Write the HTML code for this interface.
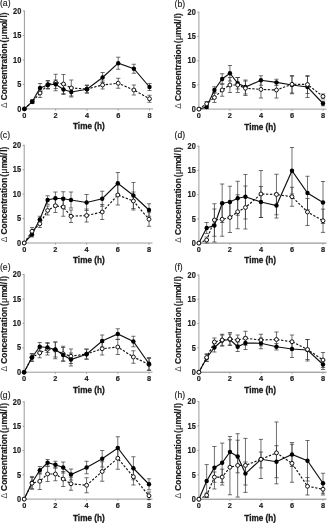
<!DOCTYPE html>
<html><head><meta charset="utf-8"><style>
html,body{margin:0;padding:0;background:#fff;width:328px;height:523px;overflow:hidden}
svg{display:block}
#w{filter:grayscale(1) ;width:328px;height:523px}
text{font-family:"Liberation Sans",sans-serif;fill:#1a1a1a}
.tk{font-size:7.4px;font-weight:bold;stroke:#1a1a1a;stroke-width:0.15px}
.xl{font-size:8.2px;font-weight:bold;stroke:#1a1a1a;stroke-width:0.3px}
.yl text{font-size:84px;font-weight:bold;stroke:#1a1a1a;stroke-width:2px}
.yl .sym{font-weight:normal}
.yl .dl{font-weight:normal;font-size:84px;stroke:none;fill:#444}
.yr text{stroke-width:1.6px}
.pl{font-size:8.6px;stroke:#1a1a1a;stroke-width:0.15px}
</style></head><body>
<div id="w"><svg width="328" height="523" viewBox="0 0 328 523">
<line x1="24.40" y1="10.50" x2="24.40" y2="108.90" stroke="#9a9a9a" stroke-width="1"/>
<line x1="24.40" y1="108.90" x2="153.00" y2="108.90" stroke="#9a9a9a" stroke-width="1"/>
<line x1="22.80" y1="108.90" x2="24.40" y2="108.90" stroke="#9a9a9a" stroke-width="1"/>
<text transform="translate(21.30,111.60) scale(1,1.12)" text-anchor="end" class="tk">0</text>
<line x1="22.80" y1="84.43" x2="24.40" y2="84.43" stroke="#9a9a9a" stroke-width="1"/>
<text transform="translate(21.30,87.13) scale(1,1.12)" text-anchor="end" class="tk">5</text>
<line x1="22.80" y1="59.95" x2="24.40" y2="59.95" stroke="#9a9a9a" stroke-width="1"/>
<text transform="translate(21.30,62.65) scale(1,1.12)" text-anchor="end" class="tk">10</text>
<line x1="22.80" y1="35.47" x2="24.40" y2="35.47" stroke="#9a9a9a" stroke-width="1"/>
<text transform="translate(21.30,38.17) scale(1,1.12)" text-anchor="end" class="tk">15</text>
<line x1="22.80" y1="11.00" x2="24.40" y2="11.00" stroke="#9a9a9a" stroke-width="1"/>
<text transform="translate(21.30,13.70) scale(1,1.12)" text-anchor="end" class="tk">20</text>
<line x1="24.40" y1="108.90" x2="24.40" y2="110.50" stroke="#9a9a9a" stroke-width="1"/>
<text transform="translate(24.40,117.90) scale(1,1.02)" text-anchor="middle" class="tk">0</text>
<line x1="55.67" y1="108.90" x2="55.67" y2="110.50" stroke="#9a9a9a" stroke-width="1"/>
<text transform="translate(55.67,117.90) scale(1,1.02)" text-anchor="middle" class="tk">2</text>
<line x1="86.95" y1="108.90" x2="86.95" y2="110.50" stroke="#9a9a9a" stroke-width="1"/>
<text transform="translate(86.95,117.90) scale(1,1.02)" text-anchor="middle" class="tk">4</text>
<line x1="118.22" y1="108.90" x2="118.22" y2="110.50" stroke="#9a9a9a" stroke-width="1"/>
<text transform="translate(118.22,117.90) scale(1,1.02)" text-anchor="middle" class="tk">6</text>
<line x1="149.50" y1="108.90" x2="149.50" y2="110.50" stroke="#9a9a9a" stroke-width="1"/>
<text transform="translate(149.50,117.90) scale(1,1.02)" text-anchor="middle" class="tk">8</text>
<text transform="translate(88.85,129.30) scale(1,1.0)" text-anchor="middle" class="xl">Time (h)</text>
<g transform="translate(7.40,59.55) rotate(-90) scale(0.1)" class="yl"><text x="-485.0" class="dl">Δ</text><text x="-407.9">Concentration</text><text x="170.3">(</text><text x="202.9" class="sym">μ</text><text x="255.0">m</text><text x="322.2">o</text><text x="364.6">l</text><text x="386.7">/</text><text x="419.6">l</text><text x="442.4">)</text></g>
<text x="0.00" y="6.40" class="pl">(a)</text>
<g stroke="#333" stroke-width="0.7" fill="none"><path d="M32.22 100.00V103.50M30.12 100.00H34.32M30.12 103.50H34.32"/><path d="M40.04 88.50V97.50M37.94 88.50H42.14M37.94 97.50H42.14"/><path d="M47.86 80.50V88.50M45.76 80.50H49.96M45.76 88.50H49.96"/><path d="M55.67 74.25V90.75M53.57 74.25H57.77M53.57 90.75H57.77"/><path d="M63.49 74.50V93.50M61.39 74.50H65.59M61.39 93.50H65.59"/><path d="M71.31 80.00V96.00M69.21 80.00H73.41M69.21 96.00H73.41"/><path d="M86.95 85.00V93.00M84.85 85.00H89.05M84.85 93.00H89.05"/><path d="M102.59 81.00V89.00M100.49 81.00H104.69M100.49 89.00H104.69"/><path d="M118.22 78.25V88.25M116.12 78.25H120.32M116.12 88.25H120.32"/><path d="M133.86 85.00V95.00M131.76 85.00H135.96M131.76 95.00H135.96"/><path d="M149.50 95.25V102.25M147.40 95.25H151.60M147.40 102.25H151.60"/><path d="M32.22 100.00V103.50M30.12 100.00H34.32M30.12 103.50H34.32"/><path d="M40.04 83.50V92.50M37.94 83.50H42.14M37.94 92.50H42.14"/><path d="M47.86 81.00V89.00M45.76 81.00H49.96M45.76 89.00H49.96"/><path d="M55.67 80.00V88.50M53.57 80.00H57.77M53.57 88.50H57.77"/><path d="M63.49 84.50V94.50M61.39 84.50H65.59M61.39 94.50H65.59"/><path d="M71.31 87.00V97.00M69.21 87.00H73.41M69.21 97.00H73.41"/><path d="M86.95 85.50V93.00M84.85 85.50H89.05M84.85 93.00H89.05"/><path d="M102.59 72.50V82.50M100.49 72.50H104.69M100.49 82.50H104.69"/><path d="M118.22 57.20V69.30M116.12 57.20H120.32M116.12 69.30H120.32"/><path d="M133.86 64.25V73.25M131.76 64.25H135.96M131.76 73.25H135.96"/><path d="M149.50 83.50V90.50M147.40 83.50H151.60M147.40 90.50H151.60"/></g>
<polyline points="24.40,108.90 32.22,101.75 40.04,93.00 47.86,84.50 55.67,82.50 63.49,84.00 71.31,88.00 86.95,89.00 102.59,85.00 118.22,83.25 133.86,90.00 149.50,98.75" fill="none" stroke="#111" stroke-width="1.15" stroke-dasharray="2.3 1.6"/>
<polyline points="24.40,108.90 32.22,101.75 40.04,88.00 47.86,85.00 55.67,84.25 63.49,89.50 71.31,92.00 86.95,89.25 102.59,77.50 118.22,63.20 133.86,68.75 149.50,87.00" fill="none" stroke="#111" stroke-width="1.15"/>
<circle cx="24.40" cy="108.90" r="1.95" fill="#fff" stroke="#111" stroke-width="1.0"/><circle cx="32.22" cy="101.75" r="1.95" fill="#fff" stroke="#111" stroke-width="1.0"/><circle cx="40.04" cy="93.00" r="1.95" fill="#fff" stroke="#111" stroke-width="1.0"/><circle cx="47.86" cy="84.50" r="1.95" fill="#fff" stroke="#111" stroke-width="1.0"/><circle cx="55.67" cy="82.50" r="1.95" fill="#fff" stroke="#111" stroke-width="1.0"/><circle cx="63.49" cy="84.00" r="1.95" fill="#fff" stroke="#111" stroke-width="1.0"/><circle cx="71.31" cy="88.00" r="1.95" fill="#fff" stroke="#111" stroke-width="1.0"/><circle cx="86.95" cy="89.00" r="1.95" fill="#fff" stroke="#111" stroke-width="1.0"/><circle cx="102.59" cy="85.00" r="1.95" fill="#fff" stroke="#111" stroke-width="1.0"/><circle cx="118.22" cy="83.25" r="1.95" fill="#fff" stroke="#111" stroke-width="1.0"/><circle cx="133.86" cy="90.00" r="1.95" fill="#fff" stroke="#111" stroke-width="1.0"/><circle cx="149.50" cy="98.75" r="1.95" fill="#fff" stroke="#111" stroke-width="1.0"/>
<circle cx="24.40" cy="108.90" r="2.2" fill="#000"/><circle cx="32.22" cy="101.75" r="2.2" fill="#000"/><circle cx="40.04" cy="88.00" r="2.2" fill="#000"/><circle cx="47.86" cy="85.00" r="2.2" fill="#000"/><circle cx="55.67" cy="84.25" r="2.2" fill="#000"/><circle cx="63.49" cy="89.50" r="2.2" fill="#000"/><circle cx="71.31" cy="92.00" r="2.2" fill="#000"/><circle cx="86.95" cy="89.25" r="2.2" fill="#000"/><circle cx="102.59" cy="77.50" r="2.2" fill="#000"/><circle cx="118.22" cy="63.20" r="2.2" fill="#000"/><circle cx="133.86" cy="68.75" r="2.2" fill="#000"/><circle cx="149.50" cy="87.00" r="2.2" fill="#000"/>
<line x1="198.90" y1="11.70" x2="198.90" y2="109.10" stroke="#9a9a9a" stroke-width="1"/>
<line x1="198.90" y1="109.10" x2="326.50" y2="109.10" stroke="#9a9a9a" stroke-width="1"/>
<line x1="197.30" y1="109.10" x2="198.90" y2="109.10" stroke="#9a9a9a" stroke-width="1"/>
<text transform="translate(195.80,111.80) scale(1,1.12)" text-anchor="end" class="tk">0</text>
<line x1="197.30" y1="84.88" x2="198.90" y2="84.88" stroke="#9a9a9a" stroke-width="1"/>
<text transform="translate(195.80,87.58) scale(1,1.12)" text-anchor="end" class="tk">5</text>
<line x1="197.30" y1="60.65" x2="198.90" y2="60.65" stroke="#9a9a9a" stroke-width="1"/>
<text transform="translate(195.80,63.35) scale(1,1.12)" text-anchor="end" class="tk">10</text>
<line x1="197.30" y1="36.42" x2="198.90" y2="36.42" stroke="#9a9a9a" stroke-width="1"/>
<text transform="translate(195.80,39.12) scale(1,1.12)" text-anchor="end" class="tk">15</text>
<line x1="197.30" y1="12.20" x2="198.90" y2="12.20" stroke="#9a9a9a" stroke-width="1"/>
<text transform="translate(195.80,14.90) scale(1,1.12)" text-anchor="end" class="tk">20</text>
<line x1="198.90" y1="109.10" x2="198.90" y2="110.70" stroke="#9a9a9a" stroke-width="1"/>
<text transform="translate(198.90,118.10) scale(1,1.02)" text-anchor="middle" class="tk">0</text>
<line x1="229.93" y1="109.10" x2="229.93" y2="110.70" stroke="#9a9a9a" stroke-width="1"/>
<text transform="translate(229.93,118.10) scale(1,1.02)" text-anchor="middle" class="tk">2</text>
<line x1="260.95" y1="109.10" x2="260.95" y2="110.70" stroke="#9a9a9a" stroke-width="1"/>
<text transform="translate(260.95,118.10) scale(1,1.02)" text-anchor="middle" class="tk">4</text>
<line x1="291.98" y1="109.10" x2="291.98" y2="110.70" stroke="#9a9a9a" stroke-width="1"/>
<text transform="translate(291.98,118.10) scale(1,1.02)" text-anchor="middle" class="tk">6</text>
<line x1="323.00" y1="109.10" x2="323.00" y2="110.70" stroke="#9a9a9a" stroke-width="1"/>
<text transform="translate(323.00,118.10) scale(1,1.02)" text-anchor="middle" class="tk">8</text>
<text transform="translate(260.20,129.50) scale(1,1.0)" text-anchor="middle" class="xl">Time (h)</text>
<g transform="translate(181.00,60.25) rotate(-90) scale(0.1)" class="yl yr"><text x="-485.0" class="dl">Δ</text><text x="-407.9">Concentration</text><text x="170.3">(</text><text x="202.9" class="sym">μ</text><text x="255.0">m</text><text x="322.2">o</text><text x="364.6">l</text><text x="386.7">/</text><text x="419.6">l</text><text x="442.4">)</text></g>
<text x="174.60" y="6.90" class="pl">(b)</text>
<g stroke="#333" stroke-width="0.7" fill="none"><path d="M206.66 101.50V106.00M204.56 101.50H208.76M204.56 106.00H208.76"/><path d="M214.41 92.50V102.50M212.31 92.50H216.51M212.31 102.50H216.51"/><path d="M222.17 83.75V96.25M220.07 83.75H224.27M220.07 96.25H224.27"/><path d="M229.93 77.50V92.50M227.83 77.50H232.03M227.83 92.50H232.03"/><path d="M237.68 77.50V92.50M235.58 77.50H239.78M235.58 92.50H239.78"/><path d="M245.44 81.00V95.50M243.34 81.00H247.54M243.34 95.50H247.54"/><path d="M260.95 80.50V98.00M258.85 80.50H263.05M258.85 98.00H263.05"/><path d="M276.46 82.00V98.00M274.36 82.00H278.56M274.36 98.00H278.56"/><path d="M291.98 75.50V93.00M289.88 75.50H294.08M289.88 93.00H294.08"/><path d="M307.49 75.50V93.50M305.39 75.50H309.59M305.39 93.50H309.59"/><path d="M323.00 94.00V98.80M320.90 94.00H325.10M320.90 98.80H325.10"/><path d="M206.66 105.50V108.50M204.56 105.50H208.76M204.56 108.50H208.76"/><path d="M214.41 86.75V93.25M212.31 86.75H216.51M212.31 93.25H216.51"/><path d="M222.17 73.75V84.25M220.07 73.75H224.27M220.07 84.25H224.27"/><path d="M229.93 65.50V81.00M227.83 65.50H232.03M227.83 81.00H232.03"/><path d="M237.68 77.50V89.00M235.58 77.50H239.78M235.58 89.00H239.78"/><path d="M245.44 80.00V94.00M243.34 80.00H247.54M243.34 94.00H247.54"/><path d="M260.95 75.75V85.25M258.85 75.75H263.05M258.85 85.25H263.05"/><path d="M276.46 79.25V85.50M274.36 79.25H278.56M274.36 85.50H278.56"/><path d="M291.98 76.25V93.75M289.88 76.25H294.08M289.88 93.75H294.08"/><path d="M307.49 76.50V97.50M305.39 76.50H309.59M305.39 97.50H309.59"/><path d="M323.00 101.20V105.80M320.90 101.20H325.10M320.90 105.80H325.10"/></g>
<polyline points="198.90,109.10 206.66,107.00 214.41,90.00 222.17,79.00 229.93,73.25 237.68,83.25 245.44,87.00 260.95,80.30 276.46,82.40 291.98,85.00 307.49,87.00 323.00,103.50" fill="none" stroke="#111" stroke-width="1.15"/>
<polyline points="198.90,109.10 206.66,103.75 214.41,97.50 222.17,90.00 229.93,85.00 237.68,85.00 245.44,88.25 260.95,89.40 276.46,90.00 291.98,84.25 307.49,84.50 323.00,96.40" fill="none" stroke="#111" stroke-width="1.15" stroke-dasharray="2.3 1.6"/>
<circle cx="198.90" cy="109.10" r="2.2" fill="#000"/><circle cx="206.66" cy="107.00" r="2.2" fill="#000"/><circle cx="214.41" cy="90.00" r="2.2" fill="#000"/><circle cx="222.17" cy="79.00" r="2.2" fill="#000"/><circle cx="229.93" cy="73.25" r="2.2" fill="#000"/><circle cx="237.68" cy="83.25" r="2.2" fill="#000"/><circle cx="245.44" cy="87.00" r="2.2" fill="#000"/><circle cx="260.95" cy="80.30" r="2.2" fill="#000"/><circle cx="276.46" cy="82.40" r="2.2" fill="#000"/><circle cx="291.98" cy="85.00" r="2.2" fill="#000"/><circle cx="307.49" cy="87.00" r="2.2" fill="#000"/><circle cx="323.00" cy="103.50" r="2.2" fill="#000"/>
<circle cx="198.90" cy="109.10" r="1.95" fill="#fff" stroke="#111" stroke-width="1.0"/><circle cx="206.66" cy="103.75" r="1.95" fill="#fff" stroke="#111" stroke-width="1.0"/><circle cx="214.41" cy="97.50" r="1.95" fill="#fff" stroke="#111" stroke-width="1.0"/><circle cx="222.17" cy="90.00" r="1.95" fill="#fff" stroke="#111" stroke-width="1.0"/><circle cx="229.93" cy="85.00" r="1.95" fill="#fff" stroke="#111" stroke-width="1.0"/><circle cx="237.68" cy="85.00" r="1.95" fill="#fff" stroke="#111" stroke-width="1.0"/><circle cx="245.44" cy="88.25" r="1.95" fill="#fff" stroke="#111" stroke-width="1.0"/><circle cx="260.95" cy="89.40" r="1.95" fill="#fff" stroke="#111" stroke-width="1.0"/><circle cx="276.46" cy="90.00" r="1.95" fill="#fff" stroke="#111" stroke-width="1.0"/><circle cx="291.98" cy="84.25" r="1.95" fill="#fff" stroke="#111" stroke-width="1.0"/><circle cx="307.49" cy="84.50" r="1.95" fill="#fff" stroke="#111" stroke-width="1.0"/><circle cx="323.00" cy="96.40" r="1.95" fill="#fff" stroke="#111" stroke-width="1.0"/>
<line x1="24.20" y1="144.80" x2="24.20" y2="243.00" stroke="#9a9a9a" stroke-width="1"/>
<line x1="24.20" y1="243.00" x2="152.50" y2="243.00" stroke="#9a9a9a" stroke-width="1"/>
<line x1="22.60" y1="243.00" x2="24.20" y2="243.00" stroke="#9a9a9a" stroke-width="1"/>
<text transform="translate(21.10,245.70) scale(1,1.12)" text-anchor="end" class="tk">0</text>
<line x1="22.60" y1="218.57" x2="24.20" y2="218.57" stroke="#9a9a9a" stroke-width="1"/>
<text transform="translate(21.10,221.27) scale(1,1.12)" text-anchor="end" class="tk">5</text>
<line x1="22.60" y1="194.15" x2="24.20" y2="194.15" stroke="#9a9a9a" stroke-width="1"/>
<text transform="translate(21.10,196.85) scale(1,1.12)" text-anchor="end" class="tk">10</text>
<line x1="22.60" y1="169.73" x2="24.20" y2="169.73" stroke="#9a9a9a" stroke-width="1"/>
<text transform="translate(21.10,172.43) scale(1,1.12)" text-anchor="end" class="tk">15</text>
<line x1="22.60" y1="145.30" x2="24.20" y2="145.30" stroke="#9a9a9a" stroke-width="1"/>
<text transform="translate(21.10,148.00) scale(1,1.12)" text-anchor="end" class="tk">20</text>
<line x1="24.20" y1="243.00" x2="24.20" y2="244.60" stroke="#9a9a9a" stroke-width="1"/>
<text transform="translate(24.20,252.00) scale(1,1.02)" text-anchor="middle" class="tk">0</text>
<line x1="55.40" y1="243.00" x2="55.40" y2="244.60" stroke="#9a9a9a" stroke-width="1"/>
<text transform="translate(55.40,252.00) scale(1,1.02)" text-anchor="middle" class="tk">2</text>
<line x1="86.60" y1="243.00" x2="86.60" y2="244.60" stroke="#9a9a9a" stroke-width="1"/>
<text transform="translate(86.60,252.00) scale(1,1.02)" text-anchor="middle" class="tk">4</text>
<line x1="117.80" y1="243.00" x2="117.80" y2="244.60" stroke="#9a9a9a" stroke-width="1"/>
<text transform="translate(117.80,252.00) scale(1,1.02)" text-anchor="middle" class="tk">6</text>
<line x1="149.00" y1="243.00" x2="149.00" y2="244.60" stroke="#9a9a9a" stroke-width="1"/>
<text transform="translate(149.00,252.00) scale(1,1.02)" text-anchor="middle" class="tk">8</text>
<text transform="translate(88.85,263.30) scale(1,1.0)" text-anchor="middle" class="xl">Time (h)</text>
<g transform="translate(7.20,193.75) rotate(-90) scale(0.1)" class="yl"><text x="-485.0" class="dl">Δ</text><text x="-407.9">Concentration</text><text x="170.3">(</text><text x="202.9" class="sym">μ</text><text x="255.0">m</text><text x="322.2">o</text><text x="364.6">l</text><text x="386.7">/</text><text x="419.6">l</text><text x="442.4">)</text></g>
<text x="0.00" y="138.10" class="pl">(c)</text>
<g stroke="#333" stroke-width="0.7" fill="none"><path d="M32.00 227.50V235.00M29.90 227.50H34.10M29.90 235.00H34.10"/><path d="M39.80 220.00V227.50M37.70 220.00H41.90M37.70 227.50H41.90"/><path d="M47.60 206.00V215.00M45.50 206.00H49.70M45.50 215.00H49.70"/><path d="M55.40 199.00V212.50M53.30 199.00H57.50M53.30 212.50H57.50"/><path d="M63.20 197.75V216.25M61.10 197.75H65.30M61.10 216.25H65.30"/><path d="M71.00 210.00V222.50M68.90 210.00H73.10M68.90 222.50H73.10"/><path d="M86.60 209.00V222.00M84.50 209.00H88.70M84.50 222.00H88.70"/><path d="M102.20 204.50V219.50M100.10 204.50H104.30M100.10 219.50H104.30"/><path d="M117.80 185.00V205.00M115.70 185.00H119.90M115.70 205.00H119.90"/><path d="M133.40 192.00V210.00M131.30 192.00H135.50M131.30 210.00H135.50"/><path d="M149.00 212.25V226.25M146.90 212.25H151.10M146.90 226.25H151.10"/><path d="M32.00 232.00V237.00M29.90 232.00H34.10M29.90 237.00H34.10"/><path d="M39.80 216.25V222.75M37.70 216.25H41.90M37.70 222.75H41.90"/><path d="M47.60 195.75V204.25M45.50 195.75H49.70M45.50 204.25H49.70"/><path d="M55.40 192.00V204.50M53.30 192.00H57.50M53.30 204.50H57.50"/><path d="M63.20 191.75V205.75M61.10 191.75H65.30M61.10 205.75H65.30"/><path d="M71.00 192.00V208.00M68.90 192.00H73.10M68.90 208.00H73.10"/><path d="M86.60 194.50V210.50M84.50 194.50H88.70M84.50 210.50H88.70"/><path d="M102.20 191.25V206.25M100.10 191.25H104.30M100.10 206.25H104.30"/><path d="M117.80 172.50V194.00M115.70 172.50H119.90M115.70 194.00H119.90"/><path d="M133.40 182.50V208.50M131.30 182.50H135.50M131.30 208.50H135.50"/><path d="M149.00 203.75V216.25M146.90 203.75H151.10M146.90 216.25H151.10"/></g>
<polyline points="24.20,243.00 32.00,234.50 39.80,219.50 47.60,200.00 55.40,198.25 63.20,198.75 71.00,200.00 86.60,202.50 102.20,198.75 117.80,183.25 133.40,195.50 149.00,210.00" fill="none" stroke="#111" stroke-width="1.15"/>
<polyline points="24.20,243.00 32.00,231.25 39.80,223.75 47.60,210.50 55.40,205.75 63.20,207.00 71.00,216.25 86.60,215.50 102.20,212.00 117.80,195.00 133.40,201.00 149.00,219.25" fill="none" stroke="#111" stroke-width="1.15" stroke-dasharray="2.3 1.6"/>
<circle cx="24.20" cy="243.00" r="2.2" fill="#000"/><circle cx="32.00" cy="234.50" r="2.2" fill="#000"/><circle cx="39.80" cy="219.50" r="2.2" fill="#000"/><circle cx="47.60" cy="200.00" r="2.2" fill="#000"/><circle cx="55.40" cy="198.25" r="2.2" fill="#000"/><circle cx="63.20" cy="198.75" r="2.2" fill="#000"/><circle cx="71.00" cy="200.00" r="2.2" fill="#000"/><circle cx="86.60" cy="202.50" r="2.2" fill="#000"/><circle cx="102.20" cy="198.75" r="2.2" fill="#000"/><circle cx="117.80" cy="183.25" r="2.2" fill="#000"/><circle cx="133.40" cy="195.50" r="2.2" fill="#000"/><circle cx="149.00" cy="210.00" r="2.2" fill="#000"/>
<circle cx="24.20" cy="243.00" r="1.95" fill="#fff" stroke="#111" stroke-width="1.0"/><circle cx="32.00" cy="231.25" r="1.95" fill="#fff" stroke="#111" stroke-width="1.0"/><circle cx="39.80" cy="223.75" r="1.95" fill="#fff" stroke="#111" stroke-width="1.0"/><circle cx="47.60" cy="210.50" r="1.95" fill="#fff" stroke="#111" stroke-width="1.0"/><circle cx="55.40" cy="205.75" r="1.95" fill="#fff" stroke="#111" stroke-width="1.0"/><circle cx="63.20" cy="207.00" r="1.95" fill="#fff" stroke="#111" stroke-width="1.0"/><circle cx="71.00" cy="216.25" r="1.95" fill="#fff" stroke="#111" stroke-width="1.0"/><circle cx="86.60" cy="215.50" r="1.95" fill="#fff" stroke="#111" stroke-width="1.0"/><circle cx="102.20" cy="212.00" r="1.95" fill="#fff" stroke="#111" stroke-width="1.0"/><circle cx="117.80" cy="195.00" r="1.95" fill="#fff" stroke="#111" stroke-width="1.0"/><circle cx="133.40" cy="201.00" r="1.95" fill="#fff" stroke="#111" stroke-width="1.0"/><circle cx="149.00" cy="219.25" r="1.95" fill="#fff" stroke="#111" stroke-width="1.0"/>
<line x1="198.90" y1="145.70" x2="198.90" y2="243.10" stroke="#9a9a9a" stroke-width="1"/>
<line x1="198.90" y1="243.10" x2="326.50" y2="243.10" stroke="#808080" stroke-width="1"/>
<line x1="197.30" y1="243.10" x2="198.90" y2="243.10" stroke="#9a9a9a" stroke-width="1"/>
<text transform="translate(195.80,245.80) scale(1,1.12)" text-anchor="end" class="tk">0</text>
<line x1="197.30" y1="218.88" x2="198.90" y2="218.88" stroke="#9a9a9a" stroke-width="1"/>
<text transform="translate(195.80,221.57) scale(1,1.12)" text-anchor="end" class="tk">5</text>
<line x1="197.30" y1="194.65" x2="198.90" y2="194.65" stroke="#9a9a9a" stroke-width="1"/>
<text transform="translate(195.80,197.35) scale(1,1.12)" text-anchor="end" class="tk">10</text>
<line x1="197.30" y1="170.42" x2="198.90" y2="170.42" stroke="#9a9a9a" stroke-width="1"/>
<text transform="translate(195.80,173.12) scale(1,1.12)" text-anchor="end" class="tk">15</text>
<line x1="197.30" y1="146.20" x2="198.90" y2="146.20" stroke="#9a9a9a" stroke-width="1"/>
<text transform="translate(195.80,148.90) scale(1,1.12)" text-anchor="end" class="tk">20</text>
<line x1="198.90" y1="243.10" x2="198.90" y2="244.70" stroke="#9a9a9a" stroke-width="1"/>
<text transform="translate(198.90,252.10) scale(1,1.02)" text-anchor="middle" class="tk">0</text>
<line x1="229.93" y1="243.10" x2="229.93" y2="244.70" stroke="#9a9a9a" stroke-width="1"/>
<text transform="translate(229.93,252.10) scale(1,1.02)" text-anchor="middle" class="tk">2</text>
<line x1="260.95" y1="243.10" x2="260.95" y2="244.70" stroke="#9a9a9a" stroke-width="1"/>
<text transform="translate(260.95,252.10) scale(1,1.02)" text-anchor="middle" class="tk">4</text>
<line x1="291.98" y1="243.10" x2="291.98" y2="244.70" stroke="#9a9a9a" stroke-width="1"/>
<text transform="translate(291.98,252.10) scale(1,1.02)" text-anchor="middle" class="tk">6</text>
<line x1="323.00" y1="243.10" x2="323.00" y2="244.70" stroke="#9a9a9a" stroke-width="1"/>
<text transform="translate(323.00,252.10) scale(1,1.02)" text-anchor="middle" class="tk">8</text>
<text transform="translate(260.20,263.40) scale(1,1.0)" text-anchor="middle" class="xl">Time (h)</text>
<g transform="translate(181.00,194.25) rotate(-90) scale(0.1)" class="yl yr"><text x="-485.0" class="dl">Δ</text><text x="-407.9">Concentration</text><text x="170.3">(</text><text x="202.9" class="sym">μ</text><text x="255.0">m</text><text x="322.2">o</text><text x="364.6">l</text><text x="386.7">/</text><text x="419.6">l</text><text x="442.4">)</text></g>
<text x="174.60" y="138.10" class="pl">(d)</text>
<g stroke="#333" stroke-width="0.7" fill="none"><path d="M206.66 237.00V243.00M204.56 237.00H208.76M204.56 243.00H208.76"/><path d="M214.41 203.75V236.25M212.31 203.75H216.51M212.31 236.25H216.51"/><path d="M222.17 202.50V236.25M220.07 202.50H224.27M220.07 236.25H224.27"/><path d="M229.93 202.50V232.50M227.83 202.50H232.03M227.83 232.50H232.03"/><path d="M237.68 194.75V228.75M235.58 194.75H239.78M235.58 228.75H239.78"/><path d="M245.44 186.00V229.00M243.34 186.00H247.54M243.34 229.00H247.54"/><path d="M260.95 170.50V217.50M258.85 170.50H263.05M258.85 217.50H263.05"/><path d="M276.46 174.25V214.75M274.36 174.25H278.56M274.36 214.75H278.56"/><path d="M291.98 187.25V206.25M289.88 187.25H294.08M289.88 206.25H294.08"/><path d="M307.49 198.50V225.50M305.39 198.50H309.59M305.39 225.50H309.59"/><path d="M323.00 209.10V232.40M320.90 209.10H325.10M320.90 232.40H325.10"/><path d="M206.66 222.50V233.50M204.56 222.50H208.76M204.56 233.50H208.76"/><path d="M214.41 209.00V242.00M212.31 209.00H216.51M212.31 242.00H216.51"/><path d="M222.17 184.00V222.50M220.07 184.00H224.27M220.07 222.50H224.27"/><path d="M229.93 186.25V217.75M227.83 186.25H232.03M227.83 217.75H232.03"/><path d="M237.68 181.25V215.25M235.58 181.25H239.78M235.58 215.25H239.78"/><path d="M245.44 174.50V219.00M243.34 174.50H247.54M243.34 219.00H247.54"/><path d="M260.95 186.50V217.50M258.85 186.50H263.05M258.85 217.50H263.05"/><path d="M276.46 193.00V218.00M274.36 193.00H278.56M274.36 218.00H278.56"/><path d="M291.98 147.50V194.00M289.88 147.50H294.08M289.88 194.00H294.08"/><path d="M307.49 176.25V209.75M305.39 176.25H309.59M305.39 209.75H309.59"/><path d="M323.00 181.50V223.50M320.90 181.50H325.10M320.90 223.50H325.10"/></g>
<polyline points="198.90,243.10 206.66,228.00 214.41,225.50 222.17,203.25 229.93,202.00 237.68,198.25 245.44,196.75 260.95,202.00 276.46,205.50 291.98,170.75 307.49,193.00 323.00,202.50" fill="none" stroke="#111" stroke-width="1.15"/>
<polyline points="198.90,243.10 206.66,240.00 214.41,220.00 222.17,219.25 229.93,217.50 237.68,211.75 245.44,207.50 260.95,194.00 276.46,194.50 291.98,196.75 307.49,212.00 323.00,220.75" fill="none" stroke="#111" stroke-width="1.15" stroke-dasharray="2.3 1.6"/>
<circle cx="198.90" cy="243.10" r="2.2" fill="#000"/><circle cx="206.66" cy="228.00" r="2.2" fill="#000"/><circle cx="214.41" cy="225.50" r="2.2" fill="#000"/><circle cx="222.17" cy="203.25" r="2.2" fill="#000"/><circle cx="229.93" cy="202.00" r="2.2" fill="#000"/><circle cx="237.68" cy="198.25" r="2.2" fill="#000"/><circle cx="245.44" cy="196.75" r="2.2" fill="#000"/><circle cx="260.95" cy="202.00" r="2.2" fill="#000"/><circle cx="276.46" cy="205.50" r="2.2" fill="#000"/><circle cx="291.98" cy="170.75" r="2.2" fill="#000"/><circle cx="307.49" cy="193.00" r="2.2" fill="#000"/><circle cx="323.00" cy="202.50" r="2.2" fill="#000"/>
<circle cx="198.90" cy="243.10" r="1.95" fill="#fff" stroke="#111" stroke-width="1.0"/><circle cx="206.66" cy="240.00" r="1.95" fill="#fff" stroke="#111" stroke-width="1.0"/><circle cx="214.41" cy="220.00" r="1.95" fill="#fff" stroke="#111" stroke-width="1.0"/><circle cx="222.17" cy="219.25" r="1.95" fill="#fff" stroke="#111" stroke-width="1.0"/><circle cx="229.93" cy="217.50" r="1.95" fill="#fff" stroke="#111" stroke-width="1.0"/><circle cx="237.68" cy="211.75" r="1.95" fill="#fff" stroke="#111" stroke-width="1.0"/><circle cx="245.44" cy="207.50" r="1.95" fill="#fff" stroke="#111" stroke-width="1.0"/><circle cx="260.95" cy="194.00" r="1.95" fill="#fff" stroke="#111" stroke-width="1.0"/><circle cx="276.46" cy="194.50" r="1.95" fill="#fff" stroke="#111" stroke-width="1.0"/><circle cx="291.98" cy="196.75" r="1.95" fill="#fff" stroke="#111" stroke-width="1.0"/><circle cx="307.49" cy="212.00" r="1.95" fill="#fff" stroke="#111" stroke-width="1.0"/><circle cx="323.00" cy="220.75" r="1.95" fill="#fff" stroke="#111" stroke-width="1.0"/>
<line x1="24.10" y1="274.00" x2="24.10" y2="372.20" stroke="#9a9a9a" stroke-width="1"/>
<line x1="24.10" y1="372.20" x2="152.50" y2="372.20" stroke="#9a9a9a" stroke-width="1"/>
<line x1="22.50" y1="372.20" x2="24.10" y2="372.20" stroke="#9a9a9a" stroke-width="1"/>
<text transform="translate(21.00,374.90) scale(1,1.12)" text-anchor="end" class="tk">0</text>
<line x1="22.50" y1="347.77" x2="24.10" y2="347.77" stroke="#9a9a9a" stroke-width="1"/>
<text transform="translate(21.00,350.47) scale(1,1.12)" text-anchor="end" class="tk">5</text>
<line x1="22.50" y1="323.35" x2="24.10" y2="323.35" stroke="#9a9a9a" stroke-width="1"/>
<text transform="translate(21.00,326.05) scale(1,1.12)" text-anchor="end" class="tk">10</text>
<line x1="22.50" y1="298.93" x2="24.10" y2="298.93" stroke="#9a9a9a" stroke-width="1"/>
<text transform="translate(21.00,301.62) scale(1,1.12)" text-anchor="end" class="tk">15</text>
<line x1="22.50" y1="274.50" x2="24.10" y2="274.50" stroke="#9a9a9a" stroke-width="1"/>
<text transform="translate(21.00,277.20) scale(1,1.12)" text-anchor="end" class="tk">20</text>
<line x1="24.10" y1="372.20" x2="24.10" y2="373.80" stroke="#9a9a9a" stroke-width="1"/>
<text transform="translate(24.10,381.20) scale(1,1.02)" text-anchor="middle" class="tk">0</text>
<line x1="55.33" y1="372.20" x2="55.33" y2="373.80" stroke="#9a9a9a" stroke-width="1"/>
<text transform="translate(55.33,381.20) scale(1,1.02)" text-anchor="middle" class="tk">2</text>
<line x1="86.55" y1="372.20" x2="86.55" y2="373.80" stroke="#9a9a9a" stroke-width="1"/>
<text transform="translate(86.55,381.20) scale(1,1.02)" text-anchor="middle" class="tk">4</text>
<line x1="117.78" y1="372.20" x2="117.78" y2="373.80" stroke="#9a9a9a" stroke-width="1"/>
<text transform="translate(117.78,381.20) scale(1,1.02)" text-anchor="middle" class="tk">6</text>
<line x1="149.00" y1="372.20" x2="149.00" y2="373.80" stroke="#9a9a9a" stroke-width="1"/>
<text transform="translate(149.00,381.20) scale(1,1.02)" text-anchor="middle" class="tk">8</text>
<text transform="translate(88.85,392.80) scale(1,1.0)" text-anchor="middle" class="xl">Time (h)</text>
<g transform="translate(7.10,322.95) rotate(-90) scale(0.1)" class="yl"><text x="-485.0" class="dl">Δ</text><text x="-407.9">Concentration</text><text x="170.3">(</text><text x="202.9" class="sym">μ</text><text x="255.0">m</text><text x="322.2">o</text><text x="364.6">l</text><text x="386.7">/</text><text x="419.6">l</text><text x="442.4">)</text></g>
<text x="0.00" y="270.10" class="pl">(e)</text>
<g stroke="#333" stroke-width="0.7" fill="none"><path d="M31.91 353.75V361.25M29.81 353.75H34.01M29.81 361.25H34.01"/><path d="M39.71 348.00V357.80M37.61 348.00H41.81M37.61 357.80H41.81"/><path d="M47.52 343.50V355.00M45.42 343.50H49.62M45.42 355.00H49.62"/><path d="M55.33 342.00V358.75M53.23 342.00H57.43M53.23 358.75H57.43"/><path d="M63.13 346.25V361.25M61.03 346.25H65.23M61.03 361.25H65.23"/><path d="M70.94 349.00V363.50M68.84 349.00H73.04M68.84 363.50H73.04"/><path d="M86.55 349.00V359.00M84.45 349.00H88.65M84.45 359.00H88.65"/><path d="M102.16 342.50V355.00M100.06 342.50H104.26M100.06 355.00H104.26"/><path d="M117.78 339.50V354.50M115.68 339.50H119.88M115.68 354.50H119.88"/><path d="M133.39 350.75V363.25M131.29 350.75H135.49M131.29 363.25H135.49"/><path d="M149.00 358.50V370.50M146.90 358.50H151.10M146.90 370.50H151.10"/><path d="M31.91 353.75V361.25M29.81 353.75H34.01M29.81 361.25H34.01"/><path d="M39.71 342.50V351.00M37.61 342.50H41.81M37.61 351.00H41.81"/><path d="M47.52 342.50V352.50M45.42 342.50H49.62M45.42 352.50H49.62"/><path d="M55.33 342.00V357.00M53.23 342.00H57.43M53.23 357.00H57.43"/><path d="M63.13 347.50V361.00M61.03 347.50H65.23M61.03 361.00H65.23"/><path d="M70.94 353.00V366.00M68.84 353.00H73.04M68.84 366.00H73.04"/><path d="M86.55 349.25V359.25M84.45 349.25H88.65M84.45 359.25H88.65"/><path d="M102.16 335.00V347.00M100.06 335.00H104.26M100.06 347.00H104.26"/><path d="M117.78 328.75V339.25M115.68 328.75H119.88M115.68 339.25H119.88"/><path d="M133.39 336.25V346.75M131.29 336.25H135.49M131.29 346.75H135.49"/><path d="M149.00 357.50V370.00M146.90 357.50H151.10M146.90 370.00H151.10"/></g>
<polyline points="24.10,372.20 31.91,357.50 39.71,352.90 47.52,349.25 55.33,350.00 63.13,353.75 70.94,356.25 86.55,354.00 102.16,348.75 117.78,347.00 133.39,357.00 149.00,364.50" fill="none" stroke="#111" stroke-width="1.15" stroke-dasharray="2.3 1.6"/>
<polyline points="24.10,372.20 31.91,357.50 39.71,346.75 47.52,347.50 55.33,349.50 63.13,355.00 70.94,359.50 86.55,354.25 102.16,341.00 117.78,334.00 133.39,341.50 149.00,363.75" fill="none" stroke="#111" stroke-width="1.15"/>
<circle cx="24.10" cy="372.20" r="1.95" fill="#fff" stroke="#111" stroke-width="1.0"/><circle cx="31.91" cy="357.50" r="1.95" fill="#fff" stroke="#111" stroke-width="1.0"/><circle cx="39.71" cy="352.90" r="1.95" fill="#fff" stroke="#111" stroke-width="1.0"/><circle cx="47.52" cy="349.25" r="1.95" fill="#fff" stroke="#111" stroke-width="1.0"/><circle cx="55.33" cy="350.00" r="1.95" fill="#fff" stroke="#111" stroke-width="1.0"/><circle cx="63.13" cy="353.75" r="1.95" fill="#fff" stroke="#111" stroke-width="1.0"/><circle cx="70.94" cy="356.25" r="1.95" fill="#fff" stroke="#111" stroke-width="1.0"/><circle cx="86.55" cy="354.00" r="1.95" fill="#fff" stroke="#111" stroke-width="1.0"/><circle cx="102.16" cy="348.75" r="1.95" fill="#fff" stroke="#111" stroke-width="1.0"/><circle cx="117.78" cy="347.00" r="1.95" fill="#fff" stroke="#111" stroke-width="1.0"/><circle cx="133.39" cy="357.00" r="1.95" fill="#fff" stroke="#111" stroke-width="1.0"/><circle cx="149.00" cy="364.50" r="1.95" fill="#fff" stroke="#111" stroke-width="1.0"/>
<circle cx="24.10" cy="372.20" r="2.2" fill="#000"/><circle cx="31.91" cy="357.50" r="2.2" fill="#000"/><circle cx="39.71" cy="346.75" r="2.2" fill="#000"/><circle cx="47.52" cy="347.50" r="2.2" fill="#000"/><circle cx="55.33" cy="349.50" r="2.2" fill="#000"/><circle cx="63.13" cy="355.00" r="2.2" fill="#000"/><circle cx="70.94" cy="359.50" r="2.2" fill="#000"/><circle cx="86.55" cy="354.25" r="2.2" fill="#000"/><circle cx="102.16" cy="341.00" r="2.2" fill="#000"/><circle cx="117.78" cy="334.00" r="2.2" fill="#000"/><circle cx="133.39" cy="341.50" r="2.2" fill="#000"/><circle cx="149.00" cy="363.75" r="2.2" fill="#000"/>
<line x1="198.90" y1="274.50" x2="198.90" y2="372.20" stroke="#9a9a9a" stroke-width="1"/>
<line x1="198.90" y1="372.20" x2="326.50" y2="372.20" stroke="#808080" stroke-width="1"/>
<line x1="197.30" y1="372.20" x2="198.90" y2="372.20" stroke="#9a9a9a" stroke-width="1"/>
<text transform="translate(195.80,374.90) scale(1,1.12)" text-anchor="end" class="tk">0</text>
<line x1="197.30" y1="347.90" x2="198.90" y2="347.90" stroke="#9a9a9a" stroke-width="1"/>
<text transform="translate(195.80,350.60) scale(1,1.12)" text-anchor="end" class="tk">5</text>
<line x1="197.30" y1="323.60" x2="198.90" y2="323.60" stroke="#9a9a9a" stroke-width="1"/>
<text transform="translate(195.80,326.30) scale(1,1.12)" text-anchor="end" class="tk">10</text>
<line x1="197.30" y1="299.30" x2="198.90" y2="299.30" stroke="#9a9a9a" stroke-width="1"/>
<text transform="translate(195.80,302.00) scale(1,1.12)" text-anchor="end" class="tk">15</text>
<line x1="197.30" y1="275.00" x2="198.90" y2="275.00" stroke="#9a9a9a" stroke-width="1"/>
<text transform="translate(195.80,277.70) scale(1,1.12)" text-anchor="end" class="tk">20</text>
<line x1="198.90" y1="372.20" x2="198.90" y2="373.80" stroke="#9a9a9a" stroke-width="1"/>
<text transform="translate(198.90,381.20) scale(1,1.02)" text-anchor="middle" class="tk">0</text>
<line x1="229.93" y1="372.20" x2="229.93" y2="373.80" stroke="#9a9a9a" stroke-width="1"/>
<text transform="translate(229.93,381.20) scale(1,1.02)" text-anchor="middle" class="tk">2</text>
<line x1="260.95" y1="372.20" x2="260.95" y2="373.80" stroke="#9a9a9a" stroke-width="1"/>
<text transform="translate(260.95,381.20) scale(1,1.02)" text-anchor="middle" class="tk">4</text>
<line x1="291.98" y1="372.20" x2="291.98" y2="373.80" stroke="#9a9a9a" stroke-width="1"/>
<text transform="translate(291.98,381.20) scale(1,1.02)" text-anchor="middle" class="tk">6</text>
<line x1="323.00" y1="372.20" x2="323.00" y2="373.80" stroke="#9a9a9a" stroke-width="1"/>
<text transform="translate(323.00,381.20) scale(1,1.02)" text-anchor="middle" class="tk">8</text>
<text transform="translate(260.20,392.80) scale(1,1.0)" text-anchor="middle" class="xl">Time (h)</text>
<g transform="translate(181.00,323.20) rotate(-90) scale(0.1)" class="yl yr"><text x="-485.0" class="dl">Δ</text><text x="-407.9">Concentration</text><text x="170.3">(</text><text x="202.9" class="sym">μ</text><text x="255.0">m</text><text x="322.2">o</text><text x="364.6">l</text><text x="386.7">/</text><text x="419.6">l</text><text x="442.4">)</text></g>
<text x="174.60" y="270.30" class="pl">(f)</text>
<g stroke="#333" stroke-width="0.7" fill="none"><path d="M206.66 353.75V361.25M204.56 353.75H208.76M204.56 361.25H208.76"/><path d="M214.41 338.00V346.00M212.31 338.00H216.51M212.31 346.00H216.51"/><path d="M222.17 334.25V345.75M220.07 334.25H224.27M220.07 345.75H224.27"/><path d="M229.93 332.50V345.50M227.83 332.50H232.03M227.83 345.50H232.03"/><path d="M237.68 335.00V345.00M235.58 335.00H239.78M235.58 345.00H239.78"/><path d="M245.44 331.25V345.25M243.34 331.25H247.54M243.34 345.25H247.54"/><path d="M260.95 334.25V345.75M258.85 334.25H263.05M258.85 345.75H263.05"/><path d="M276.46 332.00V347.00M274.36 332.00H278.56M274.36 347.00H278.56"/><path d="M291.98 335.00V348.50M289.88 335.00H294.08M289.88 348.50H294.08"/><path d="M307.49 339.50V359.50M305.39 339.50H309.59M305.39 359.50H309.59"/><path d="M323.00 352.50V367.50M320.90 352.50H325.10M320.90 367.50H325.10"/><path d="M206.66 354.50V361.50M204.56 354.50H208.76M204.56 361.50H208.76"/><path d="M214.41 343.00V352.00M212.31 343.00H216.51M212.31 352.00H216.51"/><path d="M222.17 335.00V346.00M220.07 335.00H224.27M220.07 346.00H224.27"/><path d="M229.93 334.00V345.00M227.83 334.00H232.03M227.83 345.00H232.03"/><path d="M237.68 342.00V351.50M235.58 342.00H239.78M235.58 351.50H239.78"/><path d="M245.44 337.00V349.50M243.34 337.00H247.54M243.34 349.50H247.54"/><path d="M260.95 338.00V348.75M258.85 338.00H263.05M258.85 348.75H263.05"/><path d="M276.46 343.50V350.00M274.36 343.50H278.56M274.36 350.00H278.56"/><path d="M291.98 341.00V357.50M289.88 341.00H294.08M289.88 357.50H294.08"/><path d="M307.49 339.50V361.00M305.39 339.50H309.59M305.39 361.00H309.59"/><path d="M323.00 360.50V369.50M320.90 360.50H325.10M320.90 369.50H325.10"/></g>
<polyline points="198.90,372.20 206.66,358.00 214.41,347.50 222.17,340.50 229.93,339.50 237.68,346.75 245.44,343.00 260.95,343.25 276.46,346.75 291.98,349.00 307.49,350.00 323.00,364.50" fill="none" stroke="#111" stroke-width="1.15"/>
<polyline points="198.90,372.20 206.66,357.50 214.41,342.00 222.17,340.00 229.93,339.00 237.68,340.00 245.44,338.25 260.95,340.00 276.46,339.50 291.98,341.75 307.49,349.50 323.00,360.00" fill="none" stroke="#111" stroke-width="1.15" stroke-dasharray="2.3 1.6"/>
<circle cx="198.90" cy="372.20" r="2.2" fill="#000"/><circle cx="206.66" cy="358.00" r="2.2" fill="#000"/><circle cx="214.41" cy="347.50" r="2.2" fill="#000"/><circle cx="222.17" cy="340.50" r="2.2" fill="#000"/><circle cx="229.93" cy="339.50" r="2.2" fill="#000"/><circle cx="237.68" cy="346.75" r="2.2" fill="#000"/><circle cx="245.44" cy="343.00" r="2.2" fill="#000"/><circle cx="260.95" cy="343.25" r="2.2" fill="#000"/><circle cx="276.46" cy="346.75" r="2.2" fill="#000"/><circle cx="291.98" cy="349.00" r="2.2" fill="#000"/><circle cx="307.49" cy="350.00" r="2.2" fill="#000"/><circle cx="323.00" cy="364.50" r="2.2" fill="#000"/>
<circle cx="198.90" cy="372.20" r="1.95" fill="#fff" stroke="#111" stroke-width="1.0"/><circle cx="206.66" cy="357.50" r="1.95" fill="#fff" stroke="#111" stroke-width="1.0"/><circle cx="214.41" cy="342.00" r="1.95" fill="#fff" stroke="#111" stroke-width="1.0"/><circle cx="222.17" cy="340.00" r="1.95" fill="#fff" stroke="#111" stroke-width="1.0"/><circle cx="229.93" cy="339.00" r="1.95" fill="#fff" stroke="#111" stroke-width="1.0"/><circle cx="237.68" cy="340.00" r="1.95" fill="#fff" stroke="#111" stroke-width="1.0"/><circle cx="245.44" cy="338.25" r="1.95" fill="#fff" stroke="#111" stroke-width="1.0"/><circle cx="260.95" cy="340.00" r="1.95" fill="#fff" stroke="#111" stroke-width="1.0"/><circle cx="276.46" cy="339.50" r="1.95" fill="#fff" stroke="#111" stroke-width="1.0"/><circle cx="291.98" cy="341.75" r="1.95" fill="#fff" stroke="#111" stroke-width="1.0"/><circle cx="307.49" cy="349.50" r="1.95" fill="#fff" stroke="#111" stroke-width="1.0"/><circle cx="323.00" cy="360.00" r="1.95" fill="#fff" stroke="#111" stroke-width="1.0"/>
<line x1="24.20" y1="401.40" x2="24.20" y2="499.10" stroke="#9a9a9a" stroke-width="1"/>
<line x1="24.20" y1="499.10" x2="152.50" y2="499.10" stroke="#9a9a9a" stroke-width="1"/>
<line x1="22.60" y1="499.10" x2="24.20" y2="499.10" stroke="#9a9a9a" stroke-width="1"/>
<text transform="translate(21.10,501.80) scale(1,1.12)" text-anchor="end" class="tk">0</text>
<line x1="22.60" y1="474.80" x2="24.20" y2="474.80" stroke="#9a9a9a" stroke-width="1"/>
<text transform="translate(21.10,477.50) scale(1,1.12)" text-anchor="end" class="tk">5</text>
<line x1="22.60" y1="450.50" x2="24.20" y2="450.50" stroke="#9a9a9a" stroke-width="1"/>
<text transform="translate(21.10,453.20) scale(1,1.12)" text-anchor="end" class="tk">10</text>
<line x1="22.60" y1="426.20" x2="24.20" y2="426.20" stroke="#9a9a9a" stroke-width="1"/>
<text transform="translate(21.10,428.90) scale(1,1.12)" text-anchor="end" class="tk">15</text>
<line x1="22.60" y1="401.90" x2="24.20" y2="401.90" stroke="#9a9a9a" stroke-width="1"/>
<text transform="translate(21.10,404.60) scale(1,1.12)" text-anchor="end" class="tk">20</text>
<line x1="24.20" y1="499.10" x2="24.20" y2="500.70" stroke="#9a9a9a" stroke-width="1"/>
<text transform="translate(24.20,508.10) scale(1,1.02)" text-anchor="middle" class="tk">0</text>
<line x1="55.40" y1="499.10" x2="55.40" y2="500.70" stroke="#9a9a9a" stroke-width="1"/>
<text transform="translate(55.40,508.10) scale(1,1.02)" text-anchor="middle" class="tk">2</text>
<line x1="86.60" y1="499.10" x2="86.60" y2="500.70" stroke="#9a9a9a" stroke-width="1"/>
<text transform="translate(86.60,508.10) scale(1,1.02)" text-anchor="middle" class="tk">4</text>
<line x1="117.80" y1="499.10" x2="117.80" y2="500.70" stroke="#9a9a9a" stroke-width="1"/>
<text transform="translate(117.80,508.10) scale(1,1.02)" text-anchor="middle" class="tk">6</text>
<line x1="149.00" y1="499.10" x2="149.00" y2="500.70" stroke="#9a9a9a" stroke-width="1"/>
<text transform="translate(149.00,508.10) scale(1,1.02)" text-anchor="middle" class="tk">8</text>
<text transform="translate(88.85,520.70) scale(1,1.0)" text-anchor="middle" class="xl">Time (h)</text>
<g transform="translate(7.20,450.10) rotate(-90) scale(0.1)" class="yl"><text x="-485.0" class="dl">Δ</text><text x="-407.9">Concentration</text><text x="170.3">(</text><text x="202.9" class="sym">μ</text><text x="255.0">m</text><text x="322.2">o</text><text x="364.6">l</text><text x="386.7">/</text><text x="419.6">l</text><text x="442.4">)</text></g>
<text x="0.00" y="397.60" class="pl">(g)</text>
<g stroke="#333" stroke-width="0.7" fill="none"><path d="M32.00 477.50V489.00M29.90 477.50H34.10M29.90 489.00H34.10"/><path d="M39.80 473.00V489.50M37.70 473.00H41.90M37.70 489.50H41.90"/><path d="M47.60 466.50V481.50M45.50 466.50H49.70M45.50 481.50H49.70"/><path d="M55.40 467.25V480.75M53.30 467.25H57.50M53.30 480.75H57.50"/><path d="M63.20 471.50V486.50M61.10 471.50H65.30M61.10 486.50H65.30"/><path d="M71.00 477.25V490.25M68.90 477.25H73.10M68.90 490.25H73.10"/><path d="M86.60 477.75V492.75M84.50 477.75H88.70M84.50 492.75H88.70"/><path d="M102.20 461.75V481.25M100.10 461.75H104.30M100.10 481.25H104.30"/><path d="M117.80 447.25V469.25M115.70 447.25H119.90M115.70 469.25H119.90"/><path d="M133.40 468.50V485.00M131.30 468.50H135.50M131.30 485.00H135.50"/><path d="M149.00 492.00V499.50M146.90 492.00H151.10M146.90 499.50H151.10"/><path d="M32.00 476.50V489.00M29.90 476.50H34.10M29.90 489.00H34.10"/><path d="M39.80 466.50V474.00M37.70 466.50H41.90M37.70 474.00H41.90"/><path d="M47.60 459.50V466.00M45.50 459.50H49.70M45.50 466.00H49.70"/><path d="M55.40 461.25V468.25M53.30 461.25H57.50M53.30 468.25H57.50"/><path d="M63.20 462.00V473.00M61.10 462.00H65.30M61.10 473.00H65.30"/><path d="M71.00 469.00V480.00M68.90 469.00H73.10M68.90 480.00H73.10"/><path d="M86.60 461.25V473.75M84.50 461.25H88.70M84.50 473.75H88.70"/><path d="M102.20 450.50V467.00M100.10 450.50H104.30M100.10 467.00H104.30"/><path d="M117.80 436.75V459.25M115.70 436.75H119.90M115.70 459.25H119.90"/><path d="M133.40 456.75V479.75M131.30 456.75H135.50M131.30 479.75H135.50"/><path d="M149.00 478.75V489.75M146.90 478.75H151.10M146.90 489.75H151.10"/></g>
<polyline points="24.20,499.10 32.00,482.75 39.80,470.25 47.60,462.75 55.40,464.75 63.20,467.50 71.00,474.50 86.60,467.50 102.20,458.75 117.80,448.00 133.40,468.25 149.00,484.25" fill="none" stroke="#111" stroke-width="1.15"/>
<polyline points="24.20,499.10 32.00,483.25 39.80,481.25 47.60,474.00 55.40,474.00 63.20,479.00 71.00,483.75 86.60,485.25 102.20,471.50 117.80,458.25 133.40,476.75 149.00,495.75" fill="none" stroke="#111" stroke-width="1.15" stroke-dasharray="2.3 1.6"/>
<circle cx="24.20" cy="499.10" r="2.2" fill="#000"/><circle cx="32.00" cy="482.75" r="2.2" fill="#000"/><circle cx="39.80" cy="470.25" r="2.2" fill="#000"/><circle cx="47.60" cy="462.75" r="2.2" fill="#000"/><circle cx="55.40" cy="464.75" r="2.2" fill="#000"/><circle cx="63.20" cy="467.50" r="2.2" fill="#000"/><circle cx="71.00" cy="474.50" r="2.2" fill="#000"/><circle cx="86.60" cy="467.50" r="2.2" fill="#000"/><circle cx="102.20" cy="458.75" r="2.2" fill="#000"/><circle cx="117.80" cy="448.00" r="2.2" fill="#000"/><circle cx="133.40" cy="468.25" r="2.2" fill="#000"/><circle cx="149.00" cy="484.25" r="2.2" fill="#000"/>
<circle cx="24.20" cy="499.10" r="1.95" fill="#fff" stroke="#111" stroke-width="1.0"/><circle cx="32.00" cy="483.25" r="1.95" fill="#fff" stroke="#111" stroke-width="1.0"/><circle cx="39.80" cy="481.25" r="1.95" fill="#fff" stroke="#111" stroke-width="1.0"/><circle cx="47.60" cy="474.00" r="1.95" fill="#fff" stroke="#111" stroke-width="1.0"/><circle cx="55.40" cy="474.00" r="1.95" fill="#fff" stroke="#111" stroke-width="1.0"/><circle cx="63.20" cy="479.00" r="1.95" fill="#fff" stroke="#111" stroke-width="1.0"/><circle cx="71.00" cy="483.75" r="1.95" fill="#fff" stroke="#111" stroke-width="1.0"/><circle cx="86.60" cy="485.25" r="1.95" fill="#fff" stroke="#111" stroke-width="1.0"/><circle cx="102.20" cy="471.50" r="1.95" fill="#fff" stroke="#111" stroke-width="1.0"/><circle cx="117.80" cy="458.25" r="1.95" fill="#fff" stroke="#111" stroke-width="1.0"/><circle cx="133.40" cy="476.75" r="1.95" fill="#fff" stroke="#111" stroke-width="1.0"/><circle cx="149.00" cy="495.75" r="1.95" fill="#fff" stroke="#111" stroke-width="1.0"/>
<line x1="198.90" y1="401.10" x2="198.90" y2="499.20" stroke="#9a9a9a" stroke-width="1"/>
<line x1="198.90" y1="499.20" x2="326.50" y2="499.20" stroke="#808080" stroke-width="1"/>
<line x1="197.30" y1="499.20" x2="198.90" y2="499.20" stroke="#9a9a9a" stroke-width="1"/>
<text transform="translate(195.80,501.90) scale(1,1.12)" text-anchor="end" class="tk">0</text>
<line x1="197.30" y1="474.80" x2="198.90" y2="474.80" stroke="#9a9a9a" stroke-width="1"/>
<text transform="translate(195.80,477.50) scale(1,1.12)" text-anchor="end" class="tk">5</text>
<line x1="197.30" y1="450.40" x2="198.90" y2="450.40" stroke="#9a9a9a" stroke-width="1"/>
<text transform="translate(195.80,453.10) scale(1,1.12)" text-anchor="end" class="tk">10</text>
<line x1="197.30" y1="426.00" x2="198.90" y2="426.00" stroke="#9a9a9a" stroke-width="1"/>
<text transform="translate(195.80,428.70) scale(1,1.12)" text-anchor="end" class="tk">15</text>
<line x1="197.30" y1="401.60" x2="198.90" y2="401.60" stroke="#9a9a9a" stroke-width="1"/>
<text transform="translate(195.80,404.30) scale(1,1.12)" text-anchor="end" class="tk">20</text>
<line x1="198.90" y1="499.20" x2="198.90" y2="500.80" stroke="#9a9a9a" stroke-width="1"/>
<text transform="translate(198.90,508.20) scale(1,1.02)" text-anchor="middle" class="tk">0</text>
<line x1="229.93" y1="499.20" x2="229.93" y2="500.80" stroke="#9a9a9a" stroke-width="1"/>
<text transform="translate(229.93,508.20) scale(1,1.02)" text-anchor="middle" class="tk">2</text>
<line x1="260.95" y1="499.20" x2="260.95" y2="500.80" stroke="#9a9a9a" stroke-width="1"/>
<text transform="translate(260.95,508.20) scale(1,1.02)" text-anchor="middle" class="tk">4</text>
<line x1="291.98" y1="499.20" x2="291.98" y2="500.80" stroke="#9a9a9a" stroke-width="1"/>
<text transform="translate(291.98,508.20) scale(1,1.02)" text-anchor="middle" class="tk">6</text>
<line x1="323.00" y1="499.20" x2="323.00" y2="500.80" stroke="#9a9a9a" stroke-width="1"/>
<text transform="translate(323.00,508.20) scale(1,1.02)" text-anchor="middle" class="tk">8</text>
<text transform="translate(260.20,520.80) scale(1,1.0)" text-anchor="middle" class="xl">Time (h)</text>
<g transform="translate(181.00,450.00) rotate(-90) scale(0.1)" class="yl yr"><text x="-485.0" class="dl">Δ</text><text x="-407.9">Concentration</text><text x="170.3">(</text><text x="202.9" class="sym">μ</text><text x="255.0">m</text><text x="322.2">o</text><text x="364.6">l</text><text x="386.7">/</text><text x="419.6">l</text><text x="442.4">)</text></g>
<text x="174.60" y="397.60" class="pl">(h)</text>
<g stroke="#333" stroke-width="0.7" fill="none"><path d="M206.66 493.00V497.50M204.56 493.00H208.76M204.56 497.50H208.76"/><path d="M214.41 472.00V482.25M212.31 472.00H216.51M212.31 482.25H216.51"/><path d="M222.17 469.20V485.00M220.07 469.20H224.27M220.07 485.00H224.27"/><path d="M229.93 439.75V494.75M227.83 439.75H232.03M227.83 494.75H232.03"/><path d="M237.68 433.70V497.10M235.58 433.70H239.78M235.58 497.10H239.78"/><path d="M245.44 438.40V492.40M243.34 438.40H247.54M243.34 492.40H247.54"/><path d="M260.95 439.40V478.50M258.85 439.40H263.05M258.85 478.50H263.05"/><path d="M276.46 422.00V483.80M274.36 422.00H278.56M274.36 483.80H278.56"/><path d="M291.98 444.30V482.30M289.88 444.30H294.08M289.88 482.30H294.08"/><path d="M307.49 477.50V495.00M305.39 477.50H309.59M305.39 495.00H309.59"/><path d="M323.00 483.50V495.00M320.90 483.50H325.10M320.90 495.00H325.10"/><path d="M206.66 464.60V497.40M204.56 464.60H208.76M204.56 497.40H208.76"/><path d="M214.41 446.50V489.00M212.31 446.50H216.51M212.31 489.00H216.51"/><path d="M222.17 443.10V482.40M220.07 443.10H224.27M220.07 482.40H224.27"/><path d="M229.93 436.50V467.30M227.83 436.50H232.03M227.83 467.30H232.03"/><path d="M237.68 440.20V472.80M235.58 440.20H239.78M235.58 472.80H239.78"/><path d="M245.44 462.00V485.00M243.34 462.00H247.54M243.34 485.00H247.54"/><path d="M260.95 452.00V467.90M258.85 452.00H263.05M258.85 467.90H263.05"/><path d="M276.46 445.70V477.70M274.36 445.70H278.56M274.36 477.70H278.56"/><path d="M291.98 442.50V466.50M289.88 442.50H294.08M289.88 466.50H294.08"/><path d="M307.49 440.50V481.00M305.39 440.50H309.59M305.39 481.00H309.59"/><path d="M323.00 473.25V493.25M320.90 473.25H325.10M320.90 493.25H325.10"/></g>
<polyline points="198.90,499.20 206.66,481.00 214.41,467.75 222.17,462.75 229.93,451.90 237.68,456.50 245.44,473.60 260.95,459.30 276.46,461.70 291.98,454.50 307.49,460.75 323.00,483.25" fill="none" stroke="#111" stroke-width="1.15"/>
<polyline points="198.90,499.20 206.66,495.25 214.41,477.10 222.17,477.10 229.93,467.25 237.68,465.40 245.44,465.40 260.95,459.30 276.46,452.90 291.98,463.30 307.49,486.25 323.00,489.25" fill="none" stroke="#111" stroke-width="1.15" stroke-dasharray="2.3 1.6"/>
<circle cx="198.90" cy="499.20" r="2.2" fill="#000"/><circle cx="206.66" cy="481.00" r="2.2" fill="#000"/><circle cx="214.41" cy="467.75" r="2.2" fill="#000"/><circle cx="222.17" cy="462.75" r="2.2" fill="#000"/><circle cx="229.93" cy="451.90" r="2.2" fill="#000"/><circle cx="237.68" cy="456.50" r="2.2" fill="#000"/><circle cx="245.44" cy="473.60" r="2.2" fill="#000"/><circle cx="260.95" cy="459.30" r="2.2" fill="#000"/><circle cx="276.46" cy="461.70" r="2.2" fill="#000"/><circle cx="291.98" cy="454.50" r="2.2" fill="#000"/><circle cx="307.49" cy="460.75" r="2.2" fill="#000"/><circle cx="323.00" cy="483.25" r="2.2" fill="#000"/>
<circle cx="198.90" cy="499.20" r="1.95" fill="#fff" stroke="#111" stroke-width="1.0"/><circle cx="206.66" cy="495.25" r="1.95" fill="#fff" stroke="#111" stroke-width="1.0"/><circle cx="214.41" cy="477.10" r="1.95" fill="#fff" stroke="#111" stroke-width="1.0"/><circle cx="222.17" cy="477.10" r="1.95" fill="#fff" stroke="#111" stroke-width="1.0"/><circle cx="229.93" cy="467.25" r="1.95" fill="#fff" stroke="#111" stroke-width="1.0"/><circle cx="237.68" cy="465.40" r="1.95" fill="#fff" stroke="#111" stroke-width="1.0"/><circle cx="245.44" cy="465.40" r="1.95" fill="#fff" stroke="#111" stroke-width="1.0"/><circle cx="260.95" cy="459.30" r="1.95" fill="#fff" stroke="#111" stroke-width="1.0"/><circle cx="276.46" cy="452.90" r="1.95" fill="#fff" stroke="#111" stroke-width="1.0"/><circle cx="291.98" cy="463.30" r="1.95" fill="#fff" stroke="#111" stroke-width="1.0"/><circle cx="307.49" cy="486.25" r="1.95" fill="#fff" stroke="#111" stroke-width="1.0"/><circle cx="323.00" cy="489.25" r="1.95" fill="#fff" stroke="#111" stroke-width="1.0"/>
</svg></div>
</body></html>
